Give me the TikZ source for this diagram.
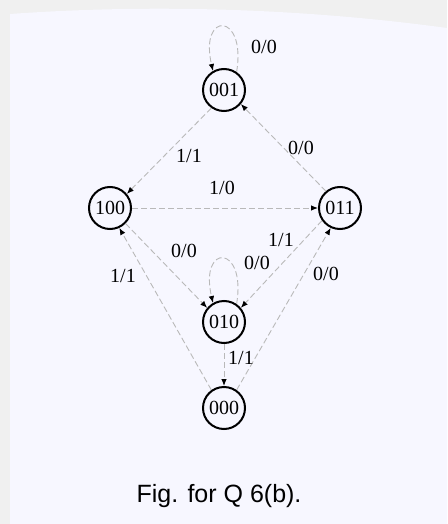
\documentclass[tikz,border=0pt]{standalone}
\usepackage{fontspec}
\setmainfont{Liberation Serif}
\newfontfamily\capfont{Liberation Sans}
\usetikzlibrary{arrows.meta}
\begin{document}
\begin{tikzpicture}[x=1pt,y=-1pt,
  state/.style={circle, draw=black, line width=2pt, minimum size=42pt, inner sep=0pt, font=\fontsize{20}{20}\selectfont},
  trans/.style={draw=gray!55, dashed, dash pattern=on 6pt off 3pt, line width=0.9pt, -{Latex[length=7pt,width=5.5pt,black]}},
  lbl/.style={font=\fontsize{20}{20}\selectfont, inner sep=0pt}]
\useasboundingbox (0,0) rectangle (447,524);
\fill[gray!12] (0,0) rectangle (447,524);
\fill[white!97!blue] (10,14) .. controls (150,4) and (300,8) .. (447,28) -- (447,524) -- (10,524) -- cycle;

\node[state] (n001) at (224,90) {001};
\node[state] (n100) at (110,208) {100};
\node[state] (n011) at (340,208) {011};
\node[state] (n010) at (224,322) {010};
\node[state] (n000) at (224,408) {000};

% self loops
\draw[trans] (n001.55) .. controls +(10,-60) and +(-14,-60) .. (n001.120);
\draw[trans] (n010.55) .. controls +(10,-60) and +(-14,-60) .. (n010.120);

% transitions
\draw[trans] (n001.235) -- (n100.40);
\draw[trans] (n011.130) -- (n001.-40);
\draw[trans] (n100.east) -- (n011.west);
\draw[trans] (n100.-45) -- (n010.140);
\draw[trans] (n011.215) -- (n010.40);
\draw[trans] (n000.55) -- (n011.245);
\draw[trans] (n010.south) -- (n000.north);
\draw[trans] (n000.125) -- (n100.-65);

% labels
\node[lbl] (l1) at (264,47) {0/0};
\node[lbl] (l2) at (189,156) {1/1};
\node[lbl] (l3) at (301,148) {0/0};
\node[lbl] (l4) at (222,188) {1/0};
\node[lbl] (l5) at (184,251) {0/0};
\node[lbl] (l6) at (281,240) {1/1};
\node[lbl] (l7) at (257,263) {0/0};
\node[lbl] (l8) at (326,274) {0/0};
\node[lbl] (l9) at (123,276) {1/1};
\node[lbl] (l10) at (241,358) {1/1};

\node[font=\capfont\fontsize{25}{25}\selectfont] (cap) at (219,496) {Fig. for Q 6(b).};
\end{tikzpicture}
\end{document}
